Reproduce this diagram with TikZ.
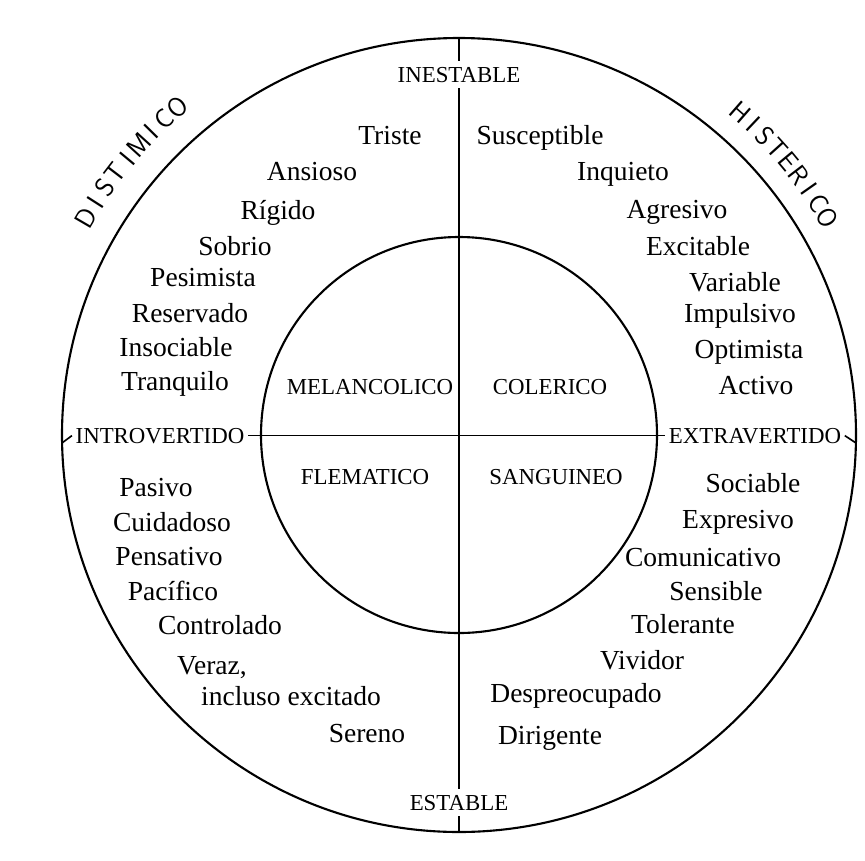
\documentclass[tikz,border=0pt]{standalone}
\usepackage{fontspec}
\setmainfont{Liberation Serif}
\usetikzlibrary{calc}
\tikzset{
  trait/.style={font=\fontsize{23.5}{26}\selectfont, anchor=base, inner sep=1pt},
  temper/.style={font=\fontsize{19.5}{22}\selectfont, anchor=base},
  axislabel/.style={font=\fontsize{19.5}{22}\selectfont, anchor=base, inner xsep=3pt, inner ysep=5pt},
  hand/.style={font=\sffamily\fontsize{23}{26}\selectfont, inner sep=0pt},
  ring/.style={line width=1.8pt},
  axisline/.style={line width=1.4pt}
}
\begin{document}
\begin{tikzpicture}[x=0.03cm,y=-0.03cm]
\useasboundingbox (0,0) rectangle (865,860);
\coordinate (c) at (459,435);
\draw[ring] (c) circle (397);
\draw[ring] (c) circle (198);
\coordinate (top) at (459,38);
\coordinate (bot) at (459,832);
\coordinate (left) at (62,443);
\coordinate (right) at (856,443);
\node[axislabel] (inest) at (459,82){INESTABLE};
\node[axislabel] (estab) at (459,810){ESTABLE};
\node[axislabel] (intro) at (160,443){INTROVERTIDO};
\node[axislabel] (extra) at (755,443){EXTRAVERTIDO};
\draw[axisline] (top)--(inest.north);
\draw[axisline] (inest.south)--(estab.north);
\draw[axisline] (estab.south)--(bot);
\draw[axisline] (left)--(intro.west);
\draw[axisline] (intro.east)--(extra.west);
\draw[axisline] (extra.east)--(right);
\node[temper] (melan) at (370,394){MELANCOLICO};
\node[temper] (coler) at (550,394){COLERICO};
\node[temper] (flema) at (365,484){FLEMATICO};
\node[temper] (sangu) at (556,484){SANGUINEO};
\node[trait] (triste) at (390,144){Triste};
\node[trait] (suscep) at (540,144){Susceptible};
\node[trait] (ansios) at (312,180){Ansioso};
\node[trait] (inquie) at (623,180){Inquieto};
\node[trait] (rigido) at (278,219){Rígido};
\node[trait] (agresi) at (677,218){Agresivo};
\node[trait] (sobrio) at (235,255){Sobrio};
\node[trait] (excita) at (698,255){Excitable};
\node[trait] (pesimi) at (203,286){Pesimista};
\node[trait] (variab) at (735,291){Variable};
\node[trait] (reserv) at (190,322){Reservado};
\node[trait] (impuls) at (740,322){Impulsivo};
\node[trait] (insoci) at (176,356){Insociable};
\node[trait] (optimi) at (749,358){Optimista};
\node[trait] (tranqu) at (175,390){Tranquilo};
\node[trait] (activo) at (756,394){Activo};
\node[trait] (pasivo) at (156,496){Pasivo};
\node[trait] (sociab) at (753,492){Sociable};
\node[trait] (cuidad) at (172,531){Cuidadoso};
\node[trait] (expres) at (738,528){Expresivo};
\node[trait] (pensat) at (169,565){Pensativo};
\node[trait] (comuni) at (703,566){Comunicativo};
\node[trait] (pacifi) at (173,600){Pacífico};
\node[trait] (sensib) at (716,600){Sensible};
\node[trait] (contro) at (220,634){Controlado};
\node[trait] (tolera) at (683,633){Tolerante};
\node[trait] (veraz) at (212,674){Veraz,};
\node[trait] (vivido) at (642,669){Vividor};
\node[trait] (inclus) at (291,705){incluso excitado};
\node[trait] (despre) at (576,702){Despreocupado};
\node[trait] (sereno) at (367,742){Sereno};
\node[trait] (dirige) at (550,744){Dirigente};
\foreach \ch [count=\i] in {D,I,S,T,I,M,I,C,O}{
  \pgfmathsetmacro\a{149.8-(\i-1)*2.4}
  \node[hand, rotate=\a-90] (dist\i) at ($(c)+(-\a:432)$){\ch};
}
\foreach \ch [count=\i] in {H,I,S,T,E,R,I,C,O}{
  \pgfmathsetmacro\a{48.9-(\i-1)*2.3}
  \node[hand, rotate=\a-90] (hist\i) at ($(c)+(-\a:428)$){\ch};
}
\end{tikzpicture}
\end{document}
